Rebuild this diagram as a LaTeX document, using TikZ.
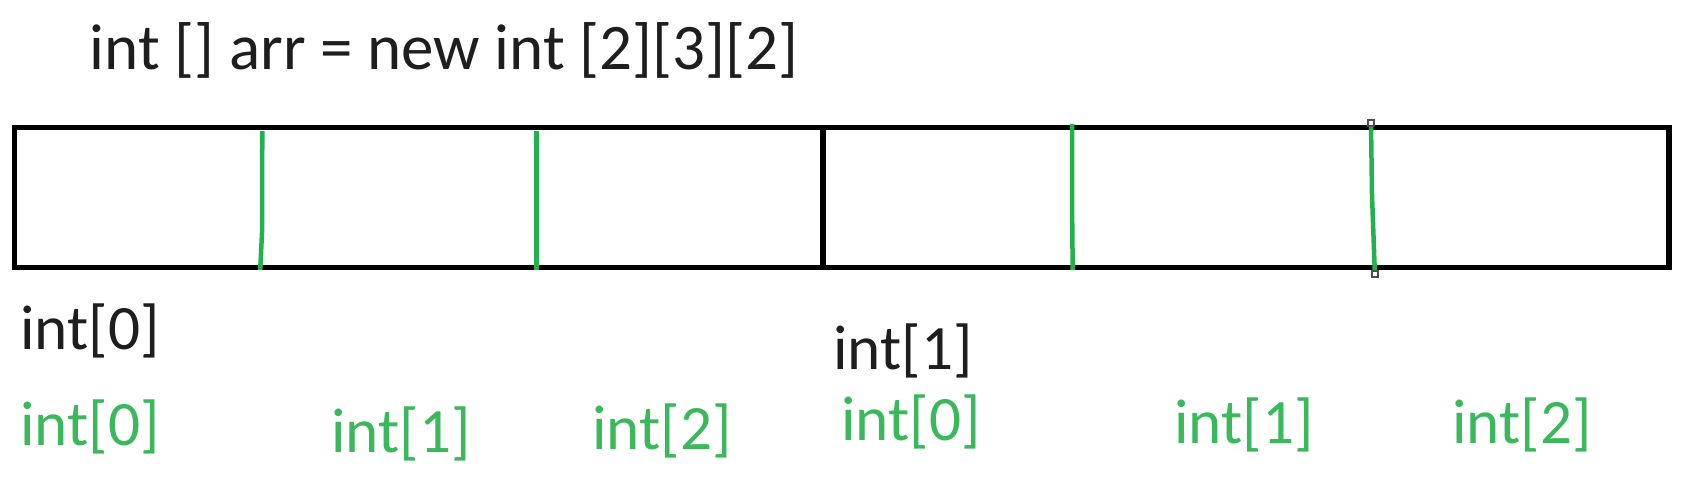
\documentclass[tikz,border=0pt]{standalone}
\usepackage{fontspec}
\setmainfont{Carlito}
\usepackage{tikz}
\usetikzlibrary{positioning,calc}
\definecolor{penGreen}{RGB}{34,177,76}
\definecolor{txtGreen}{RGB}{60,184,92}
\definecolor{txtDark}{RGB}{30,30,30}

\begin{document}
\begin{tikzpicture}[
  x=0.02cm, y=-0.02cm,
  title/.style  = {inner sep=0pt, text=txtDark, font=\fontsize{37}{40}\selectfont},
  outer/.style  = {inner sep=0pt, text=txtDark, font=\fontsize{36}{39}\selectfont},
  inner/.style  = {inner sep=0pt, text=txtGreen, font=\fontsize{36}{39}\selectfont},
  cell/.style   = {draw=black, line width=5.5*0.02cm},
  split/.style  = {draw=penGreen, line width=4.5*0.02cm},
  handle/.style = {draw=black!70, fill=white, line width=0.6pt,
                   minimum size=6*0.02cm, inner sep=0pt},
]
\useasboundingbox (0,0) rectangle (1683,491);
% declaration
\node[title] (decl) at (444, 50) {int [] arr = new int [2][3][2]};
% the array in memory
\draw[cell] (14.5,127.5) rectangle (1669,267.5);
\draw[cell] (823,125) -- (823,270);
\draw[split] (262.3,131) -- (262,233) -- (260.2,270);
\draw[split] (536.5,131) -- (536.5,270);
\draw[split] (1072,124) -- (1072,200) -- (1072.7,270);
\draw[split] (1371,124) -- (1372,195) -- (1374.8,272);
\node[handle] (hTop) at (1371,123) {};
\node[handle] (hBot) at (1375,274) {};
% first dimension
\node[outer] (o0) at (90, 331) {int[0]};
\node[outer] (o1) at (903, 351) {int[1]};
% second dimension
\node[inner] (a0) at (90, 427) {int[0]};
\node[inner] (a1) at (401, 434) {int[1]};
\node[inner] (a2) at (662, 431) {int[2]};
\node[inner] (b0) at (911, 422) {int[0]};
\node[inner] (b1) at (1244, 425) {int[1]};
\node[inner] (b2) at (1522, 425) {int[2]};
\end{tikzpicture}
\end{document}
